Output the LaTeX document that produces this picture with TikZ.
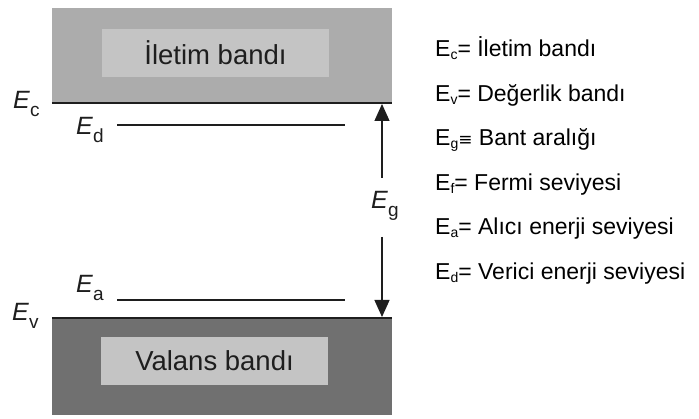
\documentclass[tikz,border=0pt]{standalone}
\usepackage{fontspec}
\setmainfont{Liberation Sans}
\newfontfamily\symfont{DejaVu Sans}
\usetikzlibrary{arrows.meta}
\definecolor{condgray}{RGB}{172,172,172}
\definecolor{valgray}{RGB}{112,112,112}
\definecolor{boxgray}{RGB}{196,196,196}
\definecolor{inkgray}{RGB}{30,30,30}
% level labels: italic E with an upright subscript
\newcommand\lvlname[1]{\textit{E}\raisebox{-0.3em}{\fontsize{19}{20}\selectfont #1}}
% legend labels: upright E with a small subscript
\newcommand\keyname[1]{E\raisebox{-0.12em}{\fontsize{14}{14}\selectfont #1}}
\begin{document}
\begin{tikzpicture}[x=1pt,y=-1pt,
  bandfill/.style={draw=none,inner sep=0pt},
  namebox/.style={fill=boxgray,inner sep=0pt,minimum width=227pt,minimum height=48pt,
    font=\fontsize{27.5}{30}\selectfont,text=inkgray},
  edge/.style={draw=inkgray,line width=2pt},
  levelline/.style={draw=inkgray,line width=1.4pt},
  gaparrow/.style={draw=inkgray,line width=1.3pt,-{Triangle[length=17pt,width=15pt]}},
  lvllabel/.style={anchor=base west,inner sep=0pt,font=\fontsize{25}{27}\selectfont,text=inkgray},
  keyrow/.style={anchor=base west,inner sep=0pt,font=\fontsize{23}{26}\selectfont,text=black}]
\useasboundingbox (0,0) rectangle (699,419);
\fill[white] (0,0) rectangle (699,419);

% conduction band
\node[bandfill,fill=condgray,minimum width=340pt,minimum height=95pt] (cband) at (222,55.5) {};
\node[namebox] (cname) at (215.5,53) {İletim bandı};
% valence band
\node[bandfill,fill=valgray,minimum width=340pt,minimum height=97pt] (vband) at (222,366.5) {};
\node[namebox] (vname) at (214.5,361) {Valans bandı};

% band edges
\draw[edge] (cband.south west) -- (cband.south east);
\draw[edge] (vband.north west) -- (vband.north east);

% donor and acceptor levels
\coordinate (edL) at (117,125);
\coordinate (edR) at (345,125);
\coordinate (eaL) at (117,300);
\coordinate (eaR) at (345,300);
\draw[levelline] (edL) -- (edR);
\draw[levelline] (eaL) -- (eaR);

% band gap arrow
\coordinate (gtop) at (382,104);
\coordinate (gbot) at (382,317);
\coordinate (gupper) at (382,178);
\coordinate (glower) at (382,237);
\draw[gaparrow] (gupper) -- (gtop);
\draw[gaparrow] (glower) -- (gbot);

% level labels
\node[lvllabel] (lc) at (13,109) {\lvlname{c}};
\node[lvllabel] (ld) at (76,135) {\lvlname{d}};
\node[lvllabel] (la) at (76,293) {\lvlname{a}};
\node[lvllabel] (lv) at (12,321) {\lvlname{v}};
\node[lvllabel] (lg) at (371,209) {\lvlname{g}};

% legend
\node[keyrow] (k1) at (435,57) {\keyname{c}= İletim bandı};
\node[keyrow] (k2) at (435,101.5) {\keyname{v}= Değerlik bandı};
\node[keyrow] (k3) at (435,146) {\keyname{g}{\symfont\fontsize{17}{17}\selectfont ≡} Bant aralığı};
\node[keyrow] (k4) at (435,190.5) {\keyname{f}= Fermi seviyesi};
\node[keyrow] (k5) at (435,235) {\keyname{a}= Alıcı enerji seviyesi};
\node[keyrow] (k6) at (435,279.5) {\keyname{d}= Verici enerji seviyesi};
\end{tikzpicture}
\end{document}
